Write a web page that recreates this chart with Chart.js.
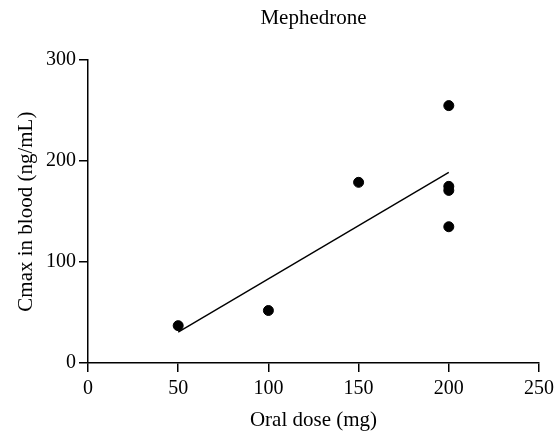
<!DOCTYPE html>
<html>
<head>
<meta charset="utf-8">
<script src="https://cdn.jsdelivr.net/npm/chart.js@4"></script>
<style>
  html, body { margin: 0; padding: 0; background: #fff; }
  #wrap { width: 555px; height: 433px; }
</style>
</head>
<body>
<div id="wrap"><canvas id="scatterChart" width="555" height="433"></canvas></div>
<script>
// data
const doseMg = [50, 100, 150, 200, 200, 200, 200];
const cmaxNgMl = [37, 52, 179, 255, 175, 171, 135];
// fitted line endpoints (as drawn in the figure)
const fitDose = [50, 200];
const fitCmax = [30.5, 188.8];
const xTicks = [0, 50, 100, 150, 200, 250];
const yTicks = [0, 100, 200, 300];

const serif = "'Liberation Serif', 'Times New Roman', serif";

const points = doseMg.map((d, i) => ({ x: d, y: cmaxNgMl[i] }));
const fitLine = fitDose.map((d, i) => ({ x: d, y: fitCmax[i] }));

const ctx = document.getElementById('scatterChart').getContext('2d');
new Chart(ctx, {
  type: 'scatter',
  data: {
    datasets: [{
      label: 'Mephedrone',
      data: points,
      backgroundColor: '#000',
      borderColor: '#000',
      pointRadius: 5,
      pointHoverRadius: 5
    }, {
      label: 'fit',
      data: fitLine,
      showLine: true,
      borderColor: '#000',
      borderWidth: 1.4,
      pointRadius: 0,
      fill: false
    }]
  },
  options: {
    responsive: false,
    animation: false,
    layout: { padding: { left: 0, right: 16, top: 0, bottom: 0 } },
    plugins: {
      legend: { display: false },
      tooltip: { enabled: false },
      title: {
        display: true,
        text: 'Mephedrone',
        color: '#000',
        fullSize: false,
        font: { family: serif, size: 21, weight: 'normal' },
        padding: { top: 6, bottom: 29 }
      }
    },
    scales: {
      x: {
        type: 'linear',
        min: 0,
        max: 250,
        afterBuildTicks: s => { s.ticks = xTicks.map(v => ({ value: v })); },
        afterFit: s => { s.height = 70; s.paddingRight = 0; s.paddingLeft = 0; },
        border: { display: true, color: '#000', width: 1.5 },
        grid: { drawOnChartArea: false, drawTicks: true, tickLength: 9, color: '#000', lineWidth: 1.5 },
        ticks: { color: '#000', padding: 5, maxRotation: 0, font: { family: serif, size: 20 } },
        title: {
          display: true,
          text: 'Oral dose (mg)',
          color: '#000',
          font: { family: serif, size: 21 },
          padding: { top: 4, bottom: 0 }
        }
      },
      y: {
        type: 'linear',
        min: 0,
        max: 300,
        afterBuildTicks: s => { s.ticks = yTicks.map(v => ({ value: v })); },
        afterFit: s => { s.width = 88; },
        border: { display: true, color: '#000', width: 1.5 },
        grid: { drawOnChartArea: false, drawTicks: true, tickLength: 9, color: '#000', lineWidth: 1.5 },
        ticks: { color: '#000', padding: 3, font: { family: serif, size: 20 } },
        title: {
          display: true,
          text: 'Cmax in blood (ng/mL)',
          color: '#000',
          font: { family: serif, size: 21 },
          padding: { top: 14, bottom: 4 }
        }
      }
    }
  }
});
</script>
</body>
</html>
